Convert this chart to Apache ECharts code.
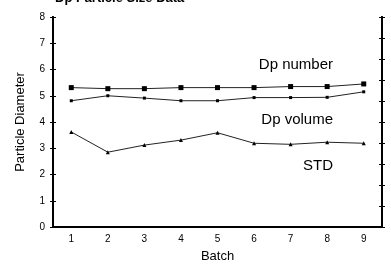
<!DOCTYPE html>
<html><head><meta charset="utf-8">
<script src="https://cdn.jsdelivr.net/npm/echarts@6/dist/echarts.min.js"></script>
<style>html,body{margin:0;padding:0;background:#fff}#c{width:391px;height:264px}</style>
</head><body><div id="c"></div>
<script>
const batches = ['1','2','3','4','5','6','7','8','9'];
const dpNumber = [5.31, 5.27, 5.27, 5.31, 5.31, 5.31, 5.35, 5.35, 5.45];
const dpVolume = [4.81, 5.00, 4.91, 4.81, 4.81, 4.93, 4.93, 4.94, 5.15];
const stdDev   = [3.62, 2.85, 3.12, 3.31, 3.59, 3.19, 3.15, 3.23, 3.19];
const seriesNames = ['Dp number', 'Dp volume', 'STD'];
const titleText = 'Dp Particle Size Data';
const xName = 'Batch';
const yName = 'Particle Diameter';

const chart = echarts.init(document.getElementById('c'), null, {renderer:'canvas'});
const font = 'Arial, "Liberation Sans", Helvetica, sans-serif';
const grid = {left:53, right:9, top:17, bottom:37, containLabel:false, outerBoundsMode:'none'};
function yAx(idx, pos, inside, showLabel, max, interval){
  return {
    type:'value', position:pos, min:0, max:max, interval:interval,
    axisLine:{show:true, onZero:false, lineStyle:{color:'#000', width:2}},
    axisTick:{show:true, inside:inside, length:3, lineStyle:{color:'#000', width:1}},
    axisLabel:{show:showLabel, color:'#000', fontSize:10, fontFamily:font, margin:8},
    splitLine:{show:false}
  };
}
const lineStyle = {color:'#222', width:1};
chart.setOption({
  animation:false,
  title:{text:titleText, left:50, top:-13, textStyle:{fontSize:13, fontWeight:'bold', color:'#000', fontFamily:font}},
  grid:grid,
  xAxis:{
    type:'category', data:batches, boundaryGap:true,
    name:xName, nameLocation:'middle', nameGap:23,
    nameTextStyle:{fontSize:13, color:'#000', fontFamily:font},
    axisLine:{lineStyle:{color:'#000', width:2}},
    axisTick:{inside:true, length:4, lineStyle:{color:'#000', width:1}},
    axisLabel:{color:'#000', fontSize:10, fontFamily:font, margin:7}
  },
  yAxis:[
    Object.assign(yAx(0,'left',false,true,8,1), {name:yName, nameLocation:'middle', nameGap:26,
      nameTextStyle:{fontSize:13, color:'#000', fontFamily:font}}),
    yAx(1,'left',true,false,8,1),
    yAx(2,'right',true,false,10,1),
    yAx(3,'right',false,false,10,1)
  ],
  series:[
    {name:seriesNames[0], type:'line', data:dpNumber, symbol:'rect', symbolSize:5,
     lineStyle:lineStyle, itemStyle:{color:'#000'}},
    {name:seriesNames[1], type:'line', data:dpVolume, symbol:'rect', symbolSize:3,
     lineStyle:lineStyle, itemStyle:{color:'#000'}},
    {name:seriesNames[2], type:'line', data:stdDev, symbol:'triangle', symbolSize:4,
     lineStyle:lineStyle, itemStyle:{color:'#000'}}
  ],
  graphic:[
    {type:'text', right:58, top:57, style:{text:seriesNames[0], fontSize:15, fontFamily:font, fill:'#000'}},
    {type:'text', right:58, top:112, style:{text:seriesNames[1], fontSize:15, fontFamily:font, fill:'#000'}},
    {type:'text', right:58, top:158, style:{text:seriesNames[2], fontSize:15, fontFamily:font, fill:'#000'}}
  ]
});
</script></body></html>
